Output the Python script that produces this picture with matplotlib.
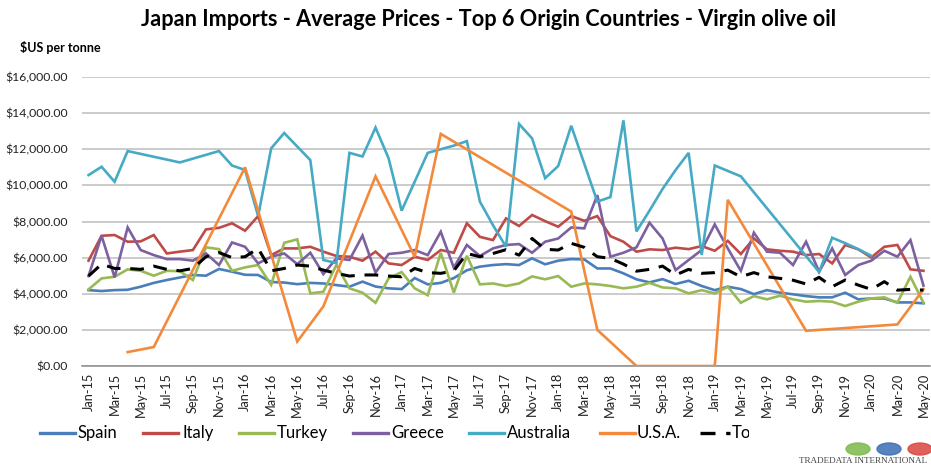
import numpy as np
import pandas as pd
import matplotlib
matplotlib.use("Agg")
import matplotlib.pyplot as plt
from matplotlib.patches import Circle, Rectangle

nan = np.nan

# Jan-15 .. May-20, one value per month ($US per tonne), nan = no trade that month
months = pd.date_range("2015-01-01", "2020-05-01", freq="MS").strftime("%b-%y").tolist()

spain = [4200, 4150, 4200, 4220, 4390, 4600, 4760, 4900, 5040, 5000, 5370, 5220,
         5050, 5040, 4650, 4620, 4530, 4600, 4570, 4480, 4390, 4670, 4400, 4300,
         4260, 4870, 4520, 4600, 4870, 5300, 5500, 5590, 5640, 5590, 5960, 5630,
         5830, 5920, 5900, 5400, 5400, 5130, 4800, 4630, 4810, 4540, 4720, 4430,
         4200, 4390, 4260, 3980, 4200, 4060, 3970, 3870, 3800, 3800, 4060, 3690,
         3740, 3740, 3520, 3520, 3470]
italy = [5830, 7210, 7250, 6880, 6900, 7250, 6230, 6330, 6420, 7560, 7650, 7900,
         7490, 8300, 6140, 6510, 6510, 6600, 6330, 6090, 6050, 5830, 6330, 5680,
         5590, 6050, 5870, 6420, 6270, 7900, 7150, 6970, 8170, 7750, 8360, 8020,
         7710, 8300, 8040, 8300, 7190, 6880, 6330, 6460, 6420, 6550, 6470, 6640,
         6380, 6930, 6200, 7060, 6460, 6380, 6330, 6140, 6200, 5680, 6700, 6460,
         6010, 6600, 6700, 5350, 5270]
turkey = [4240, 4850, 4940, 5350, 5270, 5000, 5270, 5250, 4760, 6570, 6470, 5270,
          5460, 5590, 4500, 6820, 7010, 4020, 4110, 5600, 4300, 4060, 3500, 4850,
          5200, 4300, 3920, 6270, 4060, 6100, 4520, 4570, 4430, 4570, 4960, 4800,
          4980, 4390, 4570, 4520, 4430, 4300, 4390, 4600, 4350, 4300, 4020, 4200,
          4020, 4390, 3500, 3870, 3690, 3890, 3690, 3560, 3600, 3560, 3320, 3560,
          3740, 3800, 3500, 4940, 3500]
greece = [4980, 7210, 4910, 7670, 6420, 6140, 5920, 5920, 5830, 6230, 5590, 6840,
          6600, 5680, 6050, 6230, 5640, 6270, 5090, 5960, 5870, 7220, 5170, 6200,
          6270, 6420, 6140, 7430, 5440, 6700, 6090, 6510, 6700, 6750, 6270, 6880,
          7060, 7670, 7620, 9460, 6050, 6270, 6570, 7930, 7060, 5310, 5870, 6420,
          7840, 6510, 5270, 7380, 6330, 6270, 5590, 6880, 5220, 6510, 5040, 5590,
          5830, 6380, 6050, 6970, 4450]
australia = [10570, 11030, 10200, 11900, nan, nan, nan, 11270, nan, nan, 11900, 11100,
             10850, 8300, 12050, 12900, 12150, 11400, 5870, 5700, 11800, 11600, 13200, 11500,
             8600, 10200, 11800, 12000, 12200, 12450, 9100, 7800, 6600, 13400, 12600, 10400,
             11070, 13300, 11200, 9100, 9350, 13600, 7450, 8600, 9800, 10850, 11800, 6150,
             11100, 10800, 10500, nan, nan, nan, nan, nan, 5200, 7100, 6800, 6470,
             6100, nan, nan, nan, nan]
usa = [nan, nan, nan, 770, nan, 1050, nan, nan, nan, nan, nan, nan,
       11000, nan, nan, nan, 1350, nan, 3300, nan, nan, nan, 10500, nan,
       nan, 6050, nan, 12850, nan, nan, nan, nan, nan, nan, nan, nan,
       nan, 8550, nan, 2000, nan, nan, 0, nan, nan, nan, nan, nan,
       0, 9200, nan, nan, nan, nan, nan, 1950, nan, nan, nan, nan,
       nan, nan, 2300, nan, 4250]
total = [4980, 5640, 5400, 5400, 5350, 5530, 5350, 5270, 5400, 6050, 6280, 6000,
         6050, 6510, 5270, 5400, 5590, 5530, 5310, 5130, 4980, 5040, 5040, 4980,
         4940, 5400, 5170, 5130, 5270, 6230, 6050, 6230, 6440, 6140, 7060, 6460,
         6420, 6790, 6570, 6050, 5960, 5640, 5250, 5350, 5530, 5040, 5350, 5130,
         5170, 5310, 4940, 5170, 4940, 4850, 4750, 4540, 4910, 4390, 4760, 4480,
         4240, 4670, 4200, 4240, 4200]

names = ["Spain", "Italy", "Turkey", "Greece", "Australia", "U.S.A.", "Total"]
colors = ["#4A7EBB", "#BE4B48", "#98B954", "#7D60A0", "#46AAC5", "#F38A3B", "black"]
series = [spain, italy, turkey, greece, australia, usa, total]

W, H = 931, 467
fig = plt.figure(figsize=(W / 100, H / 100), dpi=100)
ax = fig.add_axes([82 / W, 1 - 366 / H, 848 / W, 289 / H])

x = np.arange(len(months))
for vals, c, n in zip(series, colors, names):
    v = np.array(vals, dtype=float)
    ok = ~np.isnan(v)
    if n == "Total":
        ax.plot(x[ok], v[ok], color=c, lw=2.2, dashes=(4.5, 3.2), zorder=4)
    else:
        ax.plot(x[ok], v[ok], color=c, lw=1.9, solid_joinstyle="miter", zorder=3)

ax.set_xlim(-0.5, len(months) - 0.5)
ax.set_ylim(0, 16000)
ax.set_yticks(np.arange(0, 16001, 2000))
ax.set_yticklabels(["${:,.2f}".format(t) for t in np.arange(0, 16001, 2000)],
                   fontsize=8.8, family="Lato", color="#222222")
ax.set_xticks(x[::2])
ax.set_xticklabels(months[::2], rotation=90, fontsize=9.2, family="Lato", color="#222222")
ax.tick_params(axis="y", length=0, pad=10)
ax.tick_params(axis="x", length=0, pad=5)
ax.grid(axis="y", color="#BDBDBD", lw=1.1)
ax.set_axisbelow(True)
for s in ["top", "right", "left"]:
    ax.spines[s].set_visible(False)
ax.spines["bottom"].set_color("#8C8C8C")
ax.spines["bottom"].set_linewidth(1.1)

fig.text(489 / W, 1 - 19 / H,
         "Japan Imports - Average Prices - Top 6 Origin Countries - Virgin olive oil",
         ha="center", va="center", fontsize=15.6, fontweight="bold", family="Lato")
fig.text(20 / W, 1 - 47 / H, "$US per tonne", ha="left", va="center",
         fontsize=9, fontweight="bold", family="Lato")

# legend drawn by hand so the last entry can be cut off like in the original
line_x = [40, 143, 239, 353, 469, 600, 700]
text_x = [77, 182, 277, 391, 507, 637, 732]
ly = 1 - 433 / H
clip = Rectangle((0, 0), 749 / W, 1, transform=fig.transFigure, visible=False)
fig.add_artist(clip)
for n, c, lx, tx in zip(names, colors, line_x, text_x):
    if n == "Total":
        fig.add_artist(plt.Line2D([lx / W, (lx + 30) / W], [ly, ly], color=c, lw=2.4,
                                  dashes=(4.5, 3.2), transform=fig.transFigure))
    else:
        fig.add_artist(plt.Line2D([lx / W, (lx + 35) / W], [ly, ly], color=c, lw=2.4,
                                  transform=fig.transFigure))
    t = fig.text(tx / W, ly, n, ha="left", va="center", fontsize=12, family="Lato")
    t.set_clip_path(clip)

# TradeData logo
for cx, c in zip([858, 889, 920], ["#7DB94A", "#3C6DB4", "#D9463C"]):
    fig.add_artist(Circle((cx / W, 1 - 449 / H), 12 / W, transform=fig.transFigure,
                          color=c, alpha=0.85))
fig.text(927 / W, 1 - 461 / H, "TRADEDATA INTERNATIONAL", ha="right", va="center",
         fontsize=6.6, family="Liberation Serif", color="#444444")

fig.savefig("out.png", dpi=100)
